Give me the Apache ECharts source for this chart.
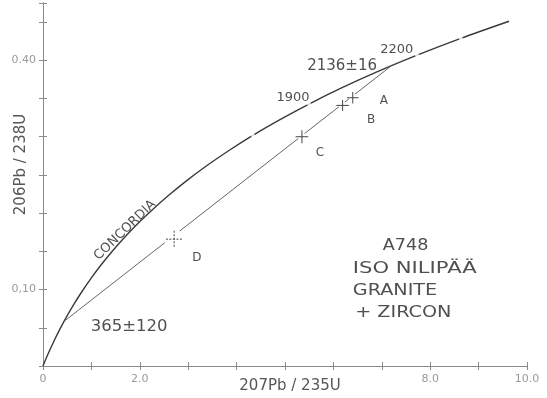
<!DOCTYPE html>
<html><head><meta charset="utf-8">
<script src="https://cdn.jsdelivr.net/npm/echarts@6/dist/echarts.min.js"></script>
<style>html,body{margin:0;padding:0;background:#fff}#c{width:547px;height:398px}</style>
</head><body><div id="c"></div>
<script>
// Concordia curve (207Pb/235U, 206Pb/238U), ages 0..2400 Ma
const concordiaAges = [0,100,200,300,400,500,600,700,800,900,1000,1100,1200,1300,1400,1500,1600,1700,1800,1900,2000,2100,2200,2300,2400];
const concordiaX = [0,0.1035,0.2177,0.3437,0.4828,0.6363,0.8056,0.9925,1.1987,1.4263,1.6774,1.9545,2.2603,2.5977,2.9701,3.3810,3.8344,4.3348,4.8869,5.4962,6.1685,6.9105,7.7292,8.6326,9.6296];
const concordiaY = [0,0.0156,0.0315,0.0476,0.0640,0.0807,0.0975,0.1147,0.1321,0.1498,0.1678,0.1861,0.2046,0.2234,0.2426,0.2620,0.2817,0.3018,0.3221,0.3428,0.3638,0.3851,0.4067,0.4287,0.4511];
// Age marks (small breaks in the curve)
const ageMarkAges = [1700,1900,2200,2300];
const ageMarkX = [4.3348,5.4962,7.7292,8.6326];
const ageMarkY = [0.3018,0.3428,0.4067,0.4287];
// Discordia: lower intercept 365 Ma, upper intercept 2136 Ma
const discordiaX = [0.433,7.196];
const discordiaY = [0.0583,0.3928];
// Zircon fractions
const sampleNames = ['A','B','C','D'];
const sampleX = [6.40,6.19,5.35,2.71];
const sampleY = [0.351,0.341,0.300,0.166];
const sampleErrX = [0.12,0.13,0.13,0.17];
const sampleErrY = [0.0075,0.0072,0.0085,0.011];
// Tick labels
const xLabelValues = [0,2,8,10];
const xLabelTexts = ['0','2.0','8.0','10.0'];
const yLabelValues = [0.10,0.40];
const yLabelTexts = ['0,10','0.40'];
const xAxisTitle = '207Pb / 235U';
const yAxisTitle = '206Pb / 238U';

// annotations anchored in data coordinates
const annotations = [
  {text:'2136±16', x:6.18, y:0.393, size:15, align:'center'},
  {text:'2200', x:7.31, y:0.414, size:13, align:'center'},
  {text:'1900', x:5.165, y:0.351, size:13, align:'center'},
  {text:'A', x:7.045, y:0.347, size:12, align:'center'},
  {text:'B', x:6.777, y:0.322, size:12, align:'center'},
  {text:'C', x:5.72, y:0.279, size:12, align:'center'},
  {text:'D', x:3.18, y:0.1415, size:12, align:'center'},
  {text:'CONCORDIA', x:1.694, y:0.1776, size:13, align:'center', rot:44},
  {text:'365±120', x:1.78, y:0.051, size:16.5, align:'center'},
  {text:'A748', x:7.02, y:0.157, size:16, align:'left', sx:1.1},
  {text:'ISO NILIPÄÄ', x:6.40, y:0.127, size:16, align:'left', sx:1.32},
  {text:'GRANITE', x:6.40, y:0.098, size:16, align:'left', sx:1.2},
  {text:'+ ZIRCON', x:6.45, y:0.0695, size:16, align:'left', sx:1.2}
];

const FONT = '"DejaVu Sans", sans-serif';
const frameColor = '#8a8a8a';
const tickLabelColor = '#9a9a9a';
const textColor = '#505050';

function xFmt(v){ const i = xLabelValues.findIndex(u=>Math.abs(u-v)<1e-9); return i>=0 ? xLabelTexts[i] : ''; }
function yFmt(v){ const i = yLabelValues.findIndex(u=>Math.abs(u-v)<1e-9); return i>=0 ? yLabelTexts[i] : ''; }

const axLine = {show:true, lineStyle:{color:frameColor, width:1}};
const axTick = {show:true, inside:true, length:4, lineStyle:{color:frameColor, width:1}};

const chart = echarts.init(document.getElementById('c'));
chart.setOption({
  animation:false,
  backgroundColor:'#fff',
  grid:{left:43, right:20, top:3, bottom:32, containLabel:false, outerBoundsMode:'none'},
  xAxis:[
    {type:'value', min:0, max:10, interval:1, position:'bottom', axisLine:axLine, axisTick:axTick, splitLine:{show:false},
     axisLabel:{formatter:xFmt, color:tickLabelColor, fontSize:11, fontFamily:FONT, margin:8, showMinLabel:true, showMaxLabel:true},
     name:xAxisTitle, nameLocation:'middle', nameGap:13, nameMoveOverlap:false,
     nameTextStyle:{color:'#555', fontSize:15, fontFamily:FONT, padding:[0,0,0,10]}},
    {type:'value', min:0, max:10, interval:1, position:'top', axisLine:axLine, axisTick:axTick, splitLine:{show:false}, axisLabel:{show:false}}
  ],
  yAxis:[
    {type:'value', min:0, max:0.475, interval:0.05, position:'left', axisLine:axLine, axisTick:axTick, splitLine:{show:false},
     axisLabel:{formatter:yFmt, color:tickLabelColor, fontSize:11, fontFamily:FONT, margin:7},
     name:yAxisTitle, nameLocation:'middle', nameGap:14, nameMoveOverlap:false,
     nameTextStyle:{color:'#555', fontSize:15, fontFamily:FONT, padding:[0,0,0,40]}},
    {type:'value', min:0, max:0.475, interval:0.05, position:'right', axisLine:axLine, axisTick:axTick, splitLine:{show:false}, axisLabel:{show:false}}
  ],
  series:[
    {type:'line', name:'Concordia', data:concordiaX.map((x,i)=>[x,concordiaY[i]]), showSymbol:false, smooth:0.3,
     lineStyle:{color:'#3a3a3a', width:1.4}, z:2, silent:true},
    {type:'line', name:'Discordia', data:discordiaX.map((x,i)=>[x,discordiaY[i]]), showSymbol:false,
     lineStyle:{color:'#666', width:1}, z:2, silent:true},
    {type:'scatter', name:'Age marks', data:ageMarkX.map((x,i)=>[x,ageMarkY[i]]), symbol:'circle', symbolSize:4,
     itemStyle:{color:'#fff'}, z:3, silent:true},
    {type:'custom', name:'Gaps', data:sampleX.map((x,i)=>[x,sampleY[i],i]), z:3, silent:true,
     renderItem:function(params, api){
       const p = api.coord([api.value(0), api.value(1)]);
       const r = params.dataIndex===3 ? 10 : 4;
       return {type:'circle', shape:{cx:p[0], cy:p[1], r:r}, style:{fill:'#fff', stroke:null}};
     }},
    {type:'custom', name:'Zircon', data:sampleX.map((x,i)=>[x,sampleY[i],sampleErrX[i],sampleErrY[i]]), z:5, silent:true,
     renderItem:function(params, api){
       const x=api.value(0), y=api.value(1), ex=api.value(2), ey=api.value(3);
       const l=api.coord([x-ex,y]), r=api.coord([x+ex,y]), t=api.coord([x,y+ey]), b=api.coord([x,y-ey]);
       const dashed = params.dataIndex===3;
       const st = {stroke:'#444', lineWidth:1, lineDash: dashed ? [2,1.5] : null};
       return {type:'group', children:[
         {type:'line', shape:{x1:l[0],y1:l[1],x2:r[0],y2:r[1]}, style:st},
         {type:'line', shape:{x1:t[0],y1:t[1],x2:b[0],y2:b[1]}, style:st}
       ]};
     }}
  ]
});

const graphics = annotations.map(a=>{
  const p = chart.convertToPixel({xAxisIndex:0, yAxisIndex:0}, [a.x, a.y]);
  return {type:'text', x:p[0], y:p[1], rotation:(a.rot||0)*Math.PI/180, scaleX:a.sx||1, z:10, silent:true,
    style:{text:a.text, fontSize:a.size, fontFamily:FONT, fill:textColor, align:a.align, verticalAlign:'middle'}};
});
chart.setOption({graphic:graphics});
</script>
</body></html>
